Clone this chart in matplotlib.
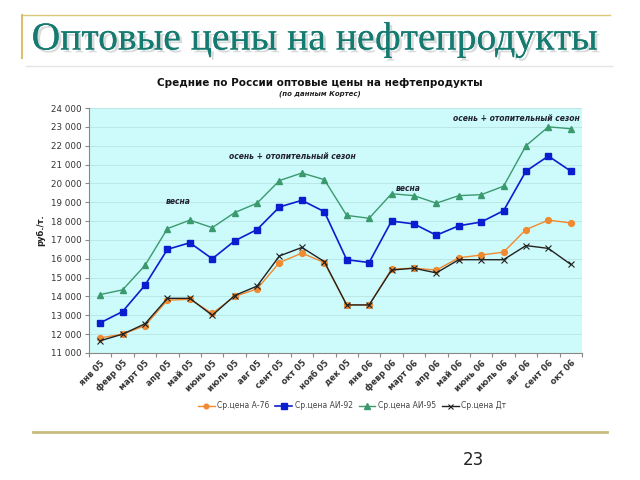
import matplotlib
matplotlib.use("Agg")
import matplotlib.pyplot as plt
import matplotlib.patheffects as pe
from matplotlib.lines import Line2D

months = ["янв 05", "февр 05", "март 05", "апр 05", "май 05", "июнь 05", "июль 05",
          "авг 05", "сент 05", "окт 05", "нояб 05", "дек 05", "янв 06", "февр 06",
          "март 06", "апр 06", "май 06", "июнь 06", "июль 06", "авг 06", "сент 06", "окт 06"]
a76 = [11800, 12000, 12450, 13800, 13850, 13100, 14000, 14400, 15800, 16300, 15800,
       13550, 13550, 15450, 15500, 15400, 16050, 16200, 16350, 17550, 18050, 17900]
ai92 = [12600, 13200, 14600, 16500, 16850, 16000, 16950, 17550, 18750, 19100, 18500,
        15950, 15800, 18000, 17850, 17250, 17750, 17950, 18550, 20650, 21450, 20650]
ai95 = [14100, 14350, 15650, 17600, 18050, 17650, 18450, 18950, 20150, 20550, 20200,
        18300, 18150, 19450, 19350, 18950, 19350, 19400, 19850, 22000, 23000, 22900]
dt = [11650, 12000, 12550, 13900, 13900, 13000, 14050, 14550, 16150, 16600, 15850,
      13550, 13550, 15400, 15500, 15250, 15950, 15950, 15950, 16700, 16550, 15700]
series_names = ["Ср.цена А-76", "Ср.цена АИ-92", "Ср.цена АИ-95", "Ср.цена Дт"]
yticks = list(range(11000, 24001, 1000))

fig = plt.figure(figsize=(6.4, 4.8), dpi=100)
fig.patch.set_facecolor("white")

# decorative slide elements
fig.add_artist(Line2D([22/640, 610/640], [1-15/480, 1-15/480], color="#d8c878", lw=1.0))
fig.add_artist(Line2D([22/640, 22/640], [1-15/480, 1-58/480], color="#d8c070", lw=1.5))
fig.add_artist(Line2D([26/640, 612/640], [1-66/480, 1-66/480], color="#e4e4e4", lw=1.0))
fig.add_artist(Line2D([33/640, 607/640], [1-432/480, 1-432/480], color="#c8bc80", lw=2.0))

fig.text(315/640, 1-40/480, "Оптовые цены на нефтепродукты", fontsize=28.5,
         family="Liberation Serif", color="#157a70", ha="center", va="center",
         path_effects=[pe.withSimplePatchShadow(offset=(2, -2), shadow_rgbFace="#b0b8b8", alpha=0.5),
                       pe.Normal()])
fig.text(473/640, 1-460/480, "23", fontsize=12, color="#222222", ha="center", va="center")

fig.text(320/640, 1-83/480, "Средние по России оптовые цены на нефтепродукты",
         fontsize=7.5, fontweight="bold", ha="center", va="center", color="#111111")
fig.text(320/640, 1-94/480, "(по данным Кортес)", fontsize=5, style="italic",
         fontweight="bold", ha="center", va="center", color="#222222")

ax = fig.add_axes([89/640, 1-353/480, (582-89)/640, (353-108)/480])
ax.set_facecolor("#cdfafa")
x = list(range(len(months)))

ax.plot(x, a76, color="#f08a30", marker="o", ms=4.2, lw=1.0, label=series_names[0], zorder=3)
ax.plot(x, ai92, color="#0a1ed0", marker="s", ms=4.6, lw=1.2, label=series_names[1], zorder=3)
ax.plot(x, ai95, color="#3a9a6e", marker="^", ms=4.8, lw=1.0, label=series_names[2], zorder=3)
ax.plot(x, dt, color="#222222", marker="x", ms=4.5, mew=0.8, lw=1.0, label=series_names[3], zorder=4)

ax.set_xlim(-0.5, len(months) - 0.5)
ax.set_ylim(11000, 24000)
ax.set_yticks(yticks)
ax.set_yticklabels([f"{v // 1000} 000" for v in yticks], fontsize=6.3, color="#333333")
ax.yaxis.grid(True, color="#b8e4e4", lw=0.6)
ax.set_axisbelow(True)
ax.set_xticks([i + 0.5 for i in range(-1, len(months))], minor=False)
ax.set_xticklabels([])
ax.set_xticks(x, minor=True)
ax.set_xticklabels(months, minor=True, rotation=45, ha="right", va="top",
                   fontsize=6, fontweight="bold", color="#333333", rotation_mode="anchor")
ax.tick_params(axis="x", which="minor", length=0, pad=4)
ax.tick_params(axis="x", which="major", length=3, color="#888888")
ax.tick_params(axis="y", length=3, color="#888888", pad=2)
for s in ["top", "right"]:
    ax.spines[s].set_visible(False)
for s in ["left", "bottom"]:
    ax.spines[s].set_color("#888888")
    ax.spines[s].set_linewidth(0.8)
ax.set_ylabel("руб./т.", fontsize=6, fontweight="bold", color="#222222", labelpad=4)

ann = dict(fontsize=5.5, style="italic", fontweight="bold", color="#222233")
ax.text(3.5, 19050, "весна", ha="center", va="center", **ann)
ax.text(5.75, 21450, "осень + отопительный сезон", ha="left", va="center", **ann)
ax.text(13.75, 19750, "весна", ha="center", va="center", **ann)
ax.text(15.75, 23450, "осень + отопительный сезон", ha="left", va="center", clip_on=False, **ann)

fig.legend(loc="center", bbox_to_anchor=(352/640, 1-406/480), ncol=4, frameon=False,
           fontsize=5.5, handlelength=2.2, columnspacing=0.8, handletextpad=0.3,
           labelcolor="#444444", markerscale=0.8)

fig.savefig("out.png", dpi=100)
